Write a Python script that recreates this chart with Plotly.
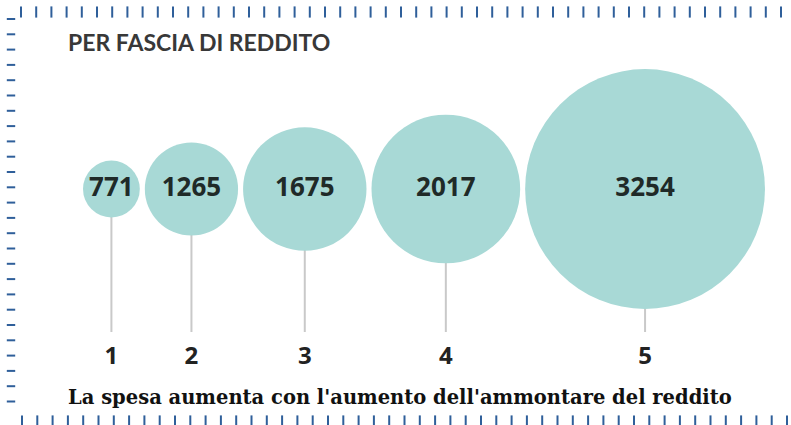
import numpy as np
import plotly.graph_objects as go

# ---- data ----
categories = ["1", "2", "3", "4", "5"]
values = [771, 1265, 1675, 2017, 3254]
title_text = "PER FASCIA DI REDDITO"
caption_text = "La spesa aumenta con l'aumento dell'ammontare del reddito"

# ---- layout parameters (pixel space) ----
W, H = 791, 425
px_per_unit = 0.0737   # bubble diameter in px per unit of value
gap = 5
left0 = 83
cy = 189
stem_end = 332
label_y = 358
bubble_color = "#a8d9d6"

vals = np.array(values, dtype=float)
diam = vals * px_per_unit
cx = left0 + np.cumsum(diam) - diam / 2 + gap * np.arange(len(vals))

fig = go.Figure()

# stems
for x, d in zip(cx, diam):
    fig.add_trace(go.Scatter(x=[x, x], y=[cy + d / 2 - 2, stem_end], mode="lines",
                             line=dict(color="#c9c9c9", width=2), hoverinfo="skip",
                             showlegend=False))

# bubbles
fig.add_trace(go.Scatter(
    x=cx, y=[cy] * len(vals), mode="markers+text",
    marker=dict(size=vals, sizemode="diameter", sizeref=1 / px_per_unit,
                color=bubble_color, line=dict(width=0), opacity=1),
    text=[str(v) for v in values], textposition="middle center",
    textfont=dict(family="Open Sans", size=26, color="#1f2a28", weight="bold"),
    showlegend=False, hoverinfo="skip"))

# category labels
fig.add_trace(go.Scatter(
    x=cx, y=[label_y] * len(vals), mode="text", text=categories,
    textposition="middle center",
    textfont=dict(family="Open Sans", size=24, color="#222222", weight="bold"),
    showlegend=False, hoverinfo="skip"))

# decorative dashed frame
border_col = "#2f5f9a"
top_x = np.arange(21, W, 15.2)
fig.add_trace(go.Scatter(x=top_x, y=[12] * len(top_x), mode="markers",
                         marker=dict(symbol="line-ns", size=8, line=dict(color=border_col, width=2)),
                         showlegend=False, hoverinfo="skip"))
bot_x = np.arange(22, W, 15.3)
fig.add_trace(go.Scatter(x=bot_x, y=[421] * len(bot_x), mode="markers",
                         marker=dict(symbol="line-ns", size=8, line=dict(color=border_col, width=2)),
                         showlegend=False, hoverinfo="skip"))
left_y = np.arange(19, 410, 15.3)
fig.add_trace(go.Scatter(x=[11] * len(left_y), y=left_y, mode="markers",
                         marker=dict(symbol="line-ew", size=6, line=dict(color=border_col, width=2)),
                         showlegend=False, hoverinfo="skip"))

fig.add_annotation(x=66, y=42, xref="x", yref="y", text=title_text, showarrow=False,
                   xanchor="left", yanchor="middle",
                   font=dict(family="Lato", size=23, color="#383838", weight="bold"))
fig.add_annotation(x=400, y=397, xref="x", yref="y", text=caption_text, showarrow=False,
                   xanchor="center", yanchor="middle",
                   font=dict(family="DejaVu Serif", size=19.5, color="#111111", weight="bold"))

fig.update_layout(
    width=W, height=H, margin=dict(l=0, r=0, t=0, b=0),
    paper_bgcolor="white", plot_bgcolor="white",
    xaxis=dict(range=[0, W], visible=False, fixedrange=True),
    yaxis=dict(range=[H, 0], visible=False, fixedrange=True),
)

fig.write_html("out.html")
